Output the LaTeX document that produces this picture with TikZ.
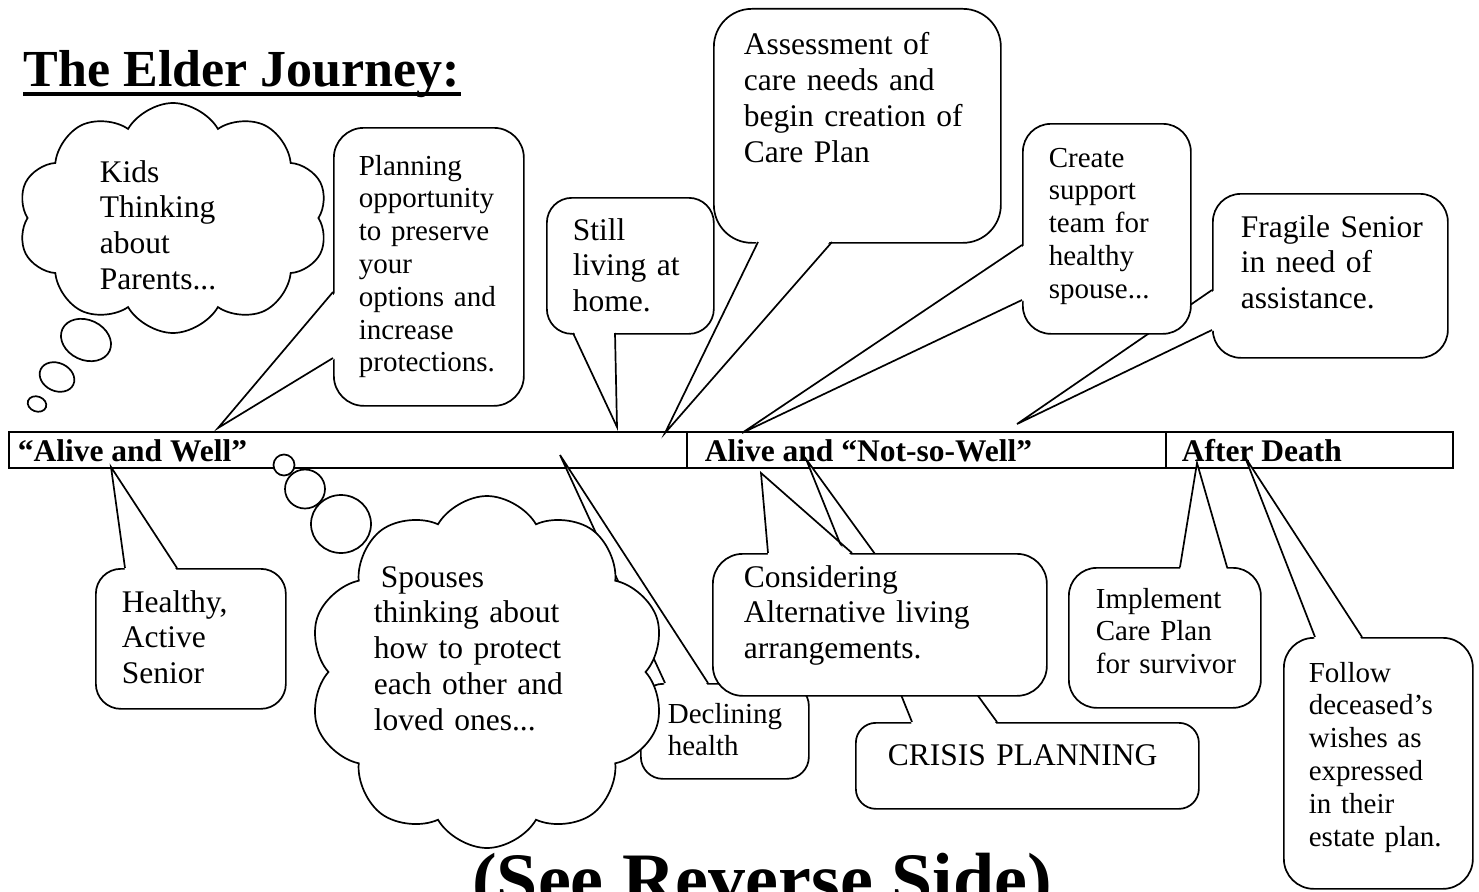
\documentclass[tikz,border=0pt]{standalone}
\usepackage{fontspec}
\setmainfont{Liberation Serif}
\usetikzlibrary{shapes.symbols,calc}
\newcommand\mkbox[6]{%
  \node[cbox, rounded corners=#6pt, minimum width={(#4-#2)*1pt}, minimum height={(#5-#3)*1pt}] (#1) at (#2,#3) {};}
\newcommand\mktail[5]{%
  \coordinate (#1) at (#2); \coordinate (#1a) at (#3); \coordinate (#1b) at (#4);
  \fill[white] ($(#1a)+(#5)$) -- (#1) -- ($(#1b)+(#5)$) -- cycle;
  \draw (#1a) -- (#1) -- (#1b);}
\begin{document}
\begin{tikzpicture}[x=1pt,y=-1pt,line width=1.7pt,line join=miter,
  cbox/.style={draw, fill=white, inner sep=0pt, anchor=north west},
  seg/.style={draw, inner sep=0pt, anchor=north west, minimum height=36pt},
  txt/.style={anchor=base west, inner sep=0pt, align=left},
  big/.style={font=\fontsize{31.5}{35.8}\selectfont},
  small/.style={font=\fontsize{29}{32.8}\selectfont},
  barlab/.style={anchor=base west, inner sep=0pt, font=\fontsize{31.5}{36}\selectfont\bfseries},
  thought/.style={cloud, draw, fill=white, cloud puffs=10, cloud puff arc=120, inner sep=0pt},
  bub/.style={draw, fill=white}]
\useasboundingbox (0,0) rectangle (1479,891);
\clip (0,0) rectangle (1479,891);
\fill[white] (0,0) rectangle (1479,891);

% timeline bar
\node[seg, minimum width=678pt] (seg1) at (8,431) {};
\node[seg, minimum width=479pt] (seg2) at (686,431) {};
\node[seg, minimum width=287pt] (seg3) at (1165,431) {};
\node[barlab] (lab1) at (17,461) {“Alive and Well”};
\node[barlab] (lab2) at (704,461) {Alive and “Not-so-Well”};
\node[barlab] (lab3) at (1181,461) {After Death};

% Kids cloud
\node[thought, minimum width=310pt, minimum height=230pt] (kids) at (173,218) {};
\node[txt, big, text width=200pt] (kidsT) at (99,182) {Kids\\Thinking\\about\\Parents...};
\draw[bub, rotate around={-25:(86,340)}] (86,340) ellipse [x radius=26pt, y radius=20pt];
\draw[bub, rotate around={-25:(57,377)}] (57,377) ellipse [x radius=18pt, y radius=14pt];
\draw[bub, rotate around={-20:(37,404)}] (37,404) ellipse [x radius=9.5pt, y radius=7.5pt];

% Planning
\mkbox{plan}{333}{127}{523}{405}{30}
\mktail{planTip}{218,428}{333,292}{333,358}{3,0}
\node[txt, small, text width=170pt] (planT) at (358,175) {Planning\\opportunity\\to preserve\\your\\options and\\increase\\protections.};

% Fragile
\mkbox{frag}{1212}{193}{1447}{357}{28}
\mktail{fragTip}{1017,424}{1212,290}{1212,330}{3,0}
\node[txt, big, text width=200pt] (fragT) at (1240,237) {Fragile Senior\\in need of\\assistance.};

% Create
\mkbox{create}{1022}{123}{1190}{333}{28}
\mktail{createTip}{742,433}{1022,245}{1022,300}{3,0}
\node[txt, small, text width=135pt] (createT) at (1048,167) {Create\\support\\team for\\healthy\\spouse...};

% Assessment
\mkbox{assess}{713}{8}{1000}{242}{38}
\mktail{assessTip}{665,433}{758,242}{832,242}{0,-3}
\node[txt, big, text width=250pt] (assessT) at (743,55) {Assessment of\\care needs and\\begin creation of\\Care Plan};

% Still living
\mkbox{still}{546}{197}{713}{333}{25}
\mktail{stillTip}{617,427}{573,333}{615,333}{0,-3}
\node[txt, big, text width=135pt] (stillT) at (572,240) {Still\\living at\\home.};

% Healthy
\mkbox{healthy}{95}{568}{285}{708}{25}
\mktail{healthyTip}{111,467}{125,568}{177,568}{0,3}
\node[txt, big, text width=150pt] (healthyT) at (121,612) {Healthy,\\Active\\Senior};

% Crisis planning
\mkbox{crisis}{855}{722}{1198}{808}{20}
\mktail{crisisTip}{806,459}{912,722}{997,722}{0,3}
\node[txt, big, text width=300pt] (crisisT) at (887,765) {CRISIS PLANNING};

% Declining health
\mkbox{decl}{640}{683}{808}{778}{22}
\mktail{declTip}{560,455}{665,683}{708,683}{0,3}
\node[txt, small, text width=125pt] (declT) at (667,723) {Declining\\health};

% Considering
\mkbox{consid}{712}{553}{1046}{695}{30}
\mktail{considTip}{761,473}{768,553}{852,553}{0,3}
\node[txt, big, text width=290pt] (considT) at (743,587) {Considering\\Alternative living\\arrangements.};

% Spouses cloud
\node[thought, minimum width=357pt, minimum height=352pt] (spouse) at (487,672) {};
\node[txt, big, text width=270pt] (spouseT) at (373,587) {\hspace*{7pt}Spouses\\thinking about\\how to protect\\each other and\\loved ones...};
\draw[bub] (341,524) ellipse [x radius=30pt, y radius=29pt];
\draw[bub] (305,489) ellipse [x radius=20pt, y radius=19.5pt];
\draw[bub] (284,465) ellipse [x radius=10.5pt, y radius=10.5pt];

% Implement
\mkbox{impl}{1068}{567}{1260}{707}{28}
\mktail{implTip}{1197,463}{1180,567}{1227,567}{0,3}
\node[txt, small, text width=160pt] (implT) at (1095,608) {Implement\\Care Plan\\for survivor};

% Follow
\mkbox{follow}{1283}{637}{1472}{888}{30}
\mktail{followTip}{1245,457}{1315,637}{1362,637}{0,3}
\node[txt, small, text width=160pt] (followT) at (1308,682) {Follow\\deceased’s\\wishes as\\expressed\\in their\\estate plan.};

% title and footer
\node[anchor=base west, inner sep=0pt, font=\fontsize{52}{60}\selectfont\bfseries] (title) at (23,86) {The Elder Journey:};
\draw[line width=3.5pt] ($(title.base west)+(0,8)$) -- ($(title.base east)+(0,8)$);
\node[anchor=base, inner sep=0pt, font=\fontsize{74}{84}\selectfont\bfseries] (rev) at (762,904) {(See Reverse Side)};
\end{tikzpicture}
\end{document}
